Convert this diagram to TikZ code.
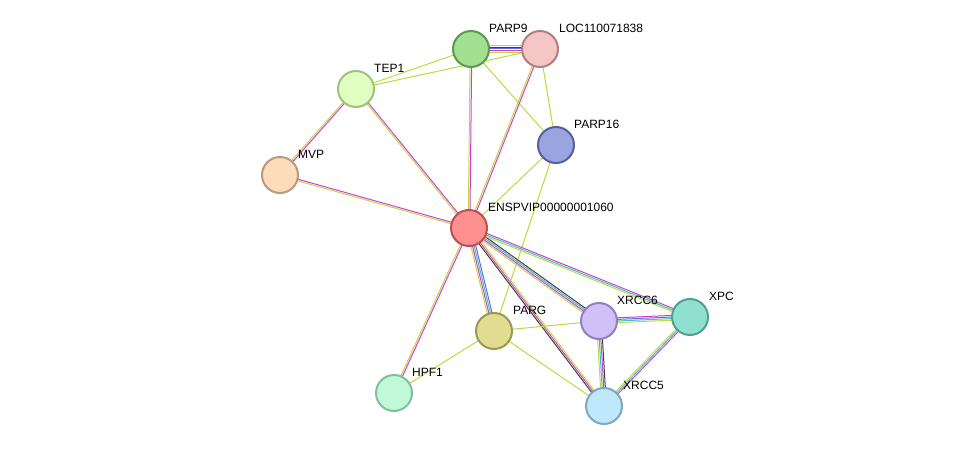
\documentclass[tikz,border=0pt]{standalone}
\usepackage{fontspec}
\setmainfont{Liberation Sans}
\usetikzlibrary{calc}
\pgfdeclarelayer{background}
\pgfsetlayers{background,main}

\definecolor{tm}{HTML}{C0D840}
\definecolor{ex}{HTML}{D040D0}
\definecolor{db}{HTML}{40C0C8}
\definecolor{co}{HTML}{404040}
\definecolor{hm}{HTML}{6070E0}

\tikzset{
  prot/.style={circle,minimum size=36pt,inner sep=0pt,line width=2pt},
  lab/.style={anchor=west,font=\fontsize{12}{14}\selectfont,inner sep=0pt},
}

% edge from #1 to #2, #3 lines, colours #4
\newcommand\edge[4]{%
  \foreach \c [count=\i] in {#4}{%
    \pgfmathsetmacro\o{(\i-1)*1.6-(#3-1)*0.8}
    \draw[\c,line width=1pt] ($(#1.center)!\o pt!90:(#2.center)$) -- ($(#2.center)!\o pt!-90:(#1.center)$);
  }}

\begin{document}
\begin{tikzpicture}[x=1pt,y=-1pt]
  \useasboundingbox (0,0) rectangle (975,452);

  %% proteins
  \node[prot,fill={rgb,255:red,160;green,224;blue,144},draw={rgb,255:red,90;green,154;blue,80}] (parp9) at (471,49) {};
  \node[prot,fill={rgb,255:red,245;green,198;blue,198},draw={rgb,255:red,176;green,128;blue,128}] (loc) at (540,49) {};
  \node[prot,fill={rgb,255:red,224;green,255;blue,192},draw={rgb,255:red,160;green,192;blue,128}] (tep1) at (356,89) {};
  \node[prot,fill={rgb,255:red,154;green,164;blue,224},draw={rgb,255:red,85;green,96;blue,160}] (parp16) at (556,145) {};
  \node[prot,fill={rgb,255:red,253;green,220;blue,188},draw={rgb,255:red,184;green,154;blue,128}] (mvp) at (280,175) {};
  \node[prot,fill={rgb,255:red,255;green,144;blue,144},draw={rgb,255:red,192;green,80;blue,80}] (ensp) at (469,228) {};
  \node[prot,fill={rgb,255:red,208;green,192;blue,248},draw={rgb,255:red,144;green,128;blue,192}] (xrcc6) at (599,321) {};
  \node[prot,fill={rgb,255:red,144;green,224;blue,208},draw={rgb,255:red,80;green,160;blue,144}] (xpc) at (690,317) {};
  \node[prot,fill={rgb,255:red,224;green,220;blue,144},draw={rgb,255:red,154;green,154;blue,80}] (parg) at (494,331) {};
  \node[prot,fill={rgb,255:red,192;green,248;blue,216},draw={rgb,255:red,128;green,192;blue,160}] (hpf1) at (394,393) {};
  \node[prot,fill={rgb,255:red,192;green,232;blue,252},draw={rgb,255:red,128;green,168;blue,192}] (xrcc5) at (604,406) {};

  %% labels
  \node[lab] (l-parp9) at (489,28) {PARP9};
  \node[lab] (l-loc) at (559,28) {LOC110071838};
  \node[lab] (l-tep1) at (374,68) {TEP1};
  \node[lab] (l-parp16) at (574,124) {PARP16};
  \node[lab] (l-mvp) at (298,154) {MVP};
  \node[lab] (l-ensp) at (488,207) {ENSPVIP00000001060};
  \node[lab] (l-xrcc6) at (617,300) {XRCC6};
  \node[lab] (l-xpc) at (709,296) {XPC};
  \node[lab] (l-parg) at (513,310) {PARG};
  \node[lab] (l-hpf1) at (412,372) {HPF1};
  \node[lab] (l-xrcc5) at (623,385) {XRCC5};

  %% interactions
  \begin{pgfonlayer}{background}
    \edge{parp9}{loc}{5}{tm,ex,hm,co,tm}
    \edge{parp9}{tep1}{1}{tm}
    \edge{loc}{tep1}{1}{tm}
    \edge{parp9}{parp16}{1}{tm}
    \edge{loc}{parp16}{1}{tm}
    \edge{parp9}{ensp}{2}{tm,ex}
    \edge{loc}{ensp}{2}{tm,ex}
    \edge{tep1}{mvp}{2}{tm,ex}
    \edge{tep1}{ensp}{2}{tm,ex}
    \edge{mvp}{ensp}{2}{tm,ex}
    \edge{parp16}{ensp}{1}{tm}
    \edge{parp16}{parg}{1}{tm}
    \edge{ensp}{xrcc6}{4}{tm,ex,db,co}
    \edge{ensp}{xpc}{3}{tm,db,ex}
    \edge{ensp}{xrcc5}{3}{co,ex,tm}
    \edge{ensp}{parg}{4}{tm,ex,db,hm}
    \edge{ensp}{hpf1}{2}{tm,ex}
    \edge{xrcc6}{xpc}{4}{tm,db,hm,ex}
    \edge{xrcc6}{xrcc5}{4}{tm,db,ex,co}
    \edge{xpc}{xrcc5}{3}{tm,db,ex}
    \edge{parg}{xrcc6}{1}{tm}
    \edge{parg}{xrcc5}{1}{tm}
    \edge{parg}{hpf1}{1}{tm}
  \end{pgfonlayer}
\end{tikzpicture}
\end{document}
